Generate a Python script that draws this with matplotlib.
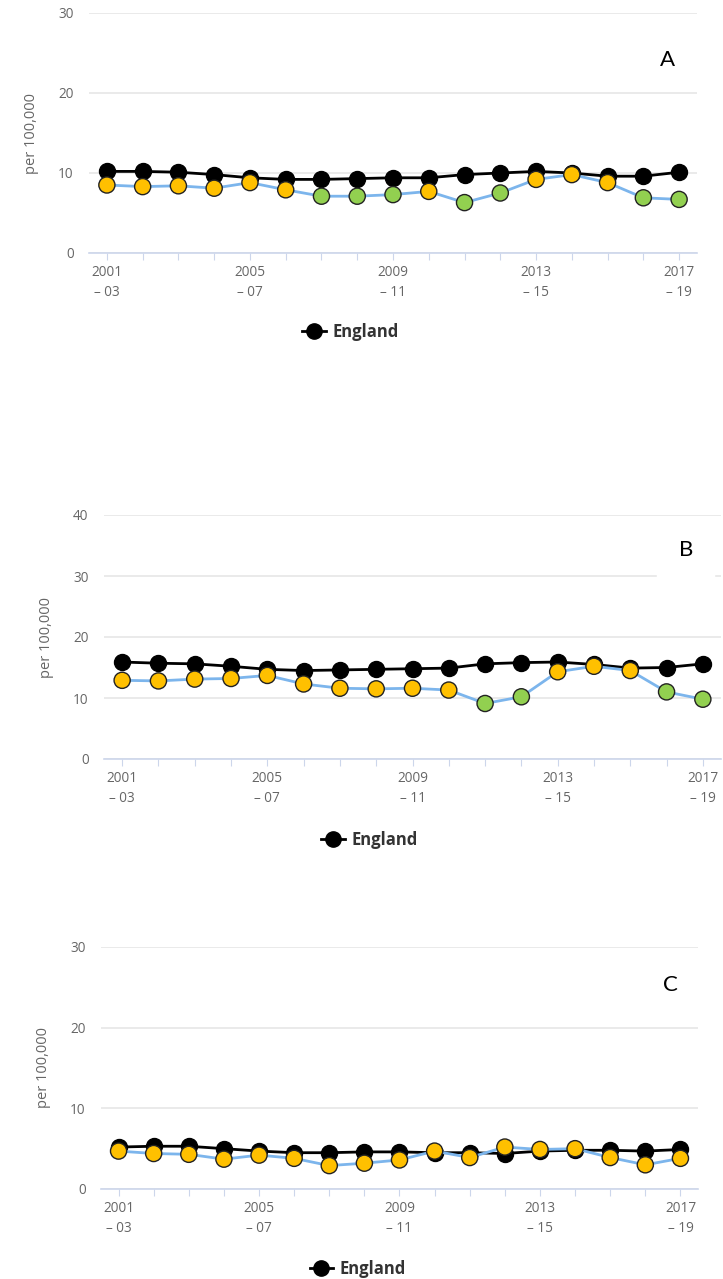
import matplotlib.pyplot as plt
from matplotlib.lines import Line2D
from matplotlib.patches import Rectangle

# Rolling 3-year periods
periods = ["2001\n– 03", "2002\n– 04", "2003\n– 05", "2004\n– 06", "2005\n– 07",
           "2006\n– 08", "2007\n– 09", "2008\n– 10", "2009\n– 11", "2010\n– 12",
           "2011\n– 13", "2012\n– 14", "2013\n– 15", "2014\n– 16", "2015\n– 17",
           "2016\n– 18", "2017\n– 19"]

# Panel A
england_a = [10.2, 10.2, 10.1, 9.8, 9.4, 9.2, 9.2, 9.3, 9.4, 9.4, 9.8, 10.0, 10.2, 10.0, 9.6, 9.6, 10.1]
local_a = [8.5, 8.3, 8.4, 8.1, 8.8, 7.9, 7.1, 7.1, 7.3, 7.7, 6.3, 7.5, 9.2, 9.8, 8.8, 6.9, 6.7]
status_a = ["similar"] * 6 + ["better"] * 3 + ["similar"] + ["better"] * 2 + ["similar"] * 3 + ["better"] * 2

# Panel B
england_b = [15.9, 15.7, 15.6, 15.2, 14.7, 14.5, 14.6, 14.7, 14.8, 14.9, 15.6, 15.8, 15.9, 15.5, 14.9, 15.0, 15.6]
local_b = [12.9, 12.8, 13.1, 13.2, 13.7, 12.3, 11.6, 11.5, 11.6, 11.3, 9.1, 10.2, 14.3, 15.2, 14.5, 11.0, 9.8]
status_b = ["similar"] * 10 + ["better"] * 2 + ["similar"] * 3 + ["better"] * 2

# Panel C
england_c = [5.2, 5.3, 5.3, 5.0, 4.7, 4.5, 4.5, 4.6, 4.6, 4.5, 4.5, 4.4, 4.7, 4.8, 4.8, 4.7, 4.9]
local_c = [4.7, 4.4, 4.3, 3.7, 4.2, 3.8, 2.9, 3.2, 3.6, 4.7, 3.9, 5.2, 4.9, 5.0, 3.9, 3.0, 3.8]
status_c = ["similar"] * 17

status_colors = {"similar": "#FFC000", "better": "#92D050"}

W, H = 723, 1279
fig = plt.figure(figsize=(W / 100, H / 100), dpi=100)
plt.rcParams['font.family'] = ['Open Sans', 'DejaVu Sans']


def px_axes(left, right, top, bottom):
    return fig.add_axes([left / W, 1 - bottom / H, (right - left) / W, (bottom - top) / H])


def draw_panel(ax, england, local, status, ymax, letter_xy, letter):
    x = range(len(periods))
    ax.plot(x, england, color="black", lw=2, marker="o", ms=11.5, mfc="black", mec="black", zorder=3)
    ax.plot(x, local, color="#7CB5EC", lw=2, zorder=4)
    ax.scatter(x, local, s=135, c=[status_colors[s] for s in status], edgecolors="#222222",
               linewidths=1, zorder=5)

    ax.set_xlim(-0.5, len(periods) - 0.5)
    ax.set_ylim(0, ymax)
    ax.set_yticks(range(0, ymax + 1, 10))
    ax.grid(axis="y", color="#E6E6E6", lw=1.2)
    ax.set_axisbelow(True)
    for s in ["top", "right", "left"]:
        ax.spines[s].set_visible(False)
    ax.spines["bottom"].set_color("#CCD6EB")
    ax.spines["bottom"].set_linewidth(1.2)

    ax.set_xticks(list(x))
    ax.set_xticklabels([p if i % 4 == 0 else "" for i, p in enumerate(periods)],
                       fontsize=9.8, color="#666666", linespacing=1.45)
    ax.tick_params(axis="x", length=5, color="#CCD6EB", pad=4)
    ax.tick_params(axis="y", length=0, labelsize=9.8, labelcolor="#666666", pad=11)
    ax.set_ylabel("per 100,000", fontsize=10.5, color="#666666", labelpad=14)

    fig.text(letter_xy[0] / W, 1 - letter_xy[1] / H, letter, fontsize=16,
             family=["Lato", "DejaVu Sans"], ha="center", va="center")

    handle = Line2D([], [], color="black", lw=2, marker="o", ms=11, mfc="black", mec="black")
    ax.legend([handle], ["England"], loc="center", frameon=False,
              bbox_to_anchor=(0.43, -0.33), handlelength=1.4, handletextpad=0.4,
              prop={"weight": "bold", "size": 12})
    ax.get_legend().get_texts()[0].set_color("#333333")


ax_a = px_axes(89, 697, 13, 253)
draw_panel(ax_a, england_a, local_a, status_a, 30, (668, 60), "A")

ax_b = px_axes(104, 721, 515, 759)
draw_panel(ax_b, england_b, local_b, status_b, 40, (686, 550), "B")

ax_c = px_axes(101, 698, 947, 1189)
draw_panel(ax_c, england_c, local_c, status_c, 30, (670, 985), "C")

# white box over part of the 30 gridline in panel B
fig.patches.append(Rectangle((657 / W, 1 - 590 / H), 57 / W, 25 / H,
                             transform=fig.transFigure, color="white", zorder=10))

fig.savefig("out.png", dpi=100)
